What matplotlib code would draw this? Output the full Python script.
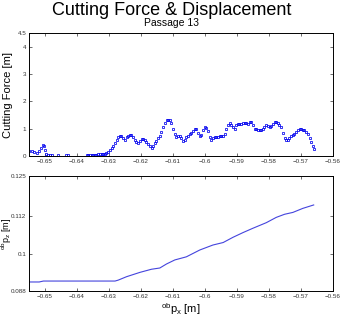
import matplotlib
matplotlib.use('Agg')
from matplotlib import pyplot as plt

plt.rcParams['font.family'] = ['Liberation Sans', 'DejaVu Sans']
plt.rcParams['mathtext.fontset'] = 'custom'
plt.rcParams['mathtext.rm'] = 'Liberation Sans'

# cutting force samples (x position [m], force)
force_x = [-0.6549, -0.6542, -0.6534, -0.6526, -0.6518, -0.6511, -0.6507, -0.6504,
           -0.6501, -0.6497, -0.6492, -0.6484, -0.6479, -0.6458, -0.6434, -0.6429,
           -0.6370, -0.6365, -0.6360, -0.6354, -0.6349, -0.6344, -0.6339, -0.6334,
           -0.6328, -0.6323, -0.6318, -0.6313, -0.6308, -0.6302, -0.6297, -0.6292,
           -0.6287, -0.6282, -0.6276, -0.6271, -0.6266, -0.6261, -0.6256, -0.6250,
           -0.6245, -0.6240, -0.6235, -0.6230, -0.6224, -0.6219, -0.6214, -0.6209,
           -0.6204, -0.6198, -0.6193, -0.6188, -0.6183, -0.6178, -0.6172, -0.6167,
           -0.6162, -0.6157, -0.6152, -0.6146, -0.6141, -0.6136, -0.6131, -0.6126,
           -0.6120, -0.6115, -0.6110, -0.6105, -0.6100, -0.6094, -0.6089, -0.6084,
           -0.6079, -0.6074, -0.6068, -0.6063, -0.6058, -0.6053, -0.6048, -0.6042,
           -0.6037, -0.6032, -0.6027, -0.6022, -0.6016, -0.6011, -0.6006, -0.6001,
           -0.5996, -0.5990, -0.5985, -0.5980, -0.5975, -0.5970, -0.5964, -0.5959,
           -0.5954, -0.5949, -0.5944, -0.5938, -0.5933, -0.5928, -0.5923, -0.5918,
           -0.5912, -0.5907, -0.5902, -0.5897, -0.5892, -0.5886, -0.5881, -0.5876,
           -0.5871, -0.5866, -0.5860, -0.5855, -0.5850, -0.5845, -0.5840, -0.5834,
           -0.5829, -0.5824, -0.5819, -0.5814, -0.5808, -0.5803, -0.5798, -0.5793,
           -0.5788, -0.5782, -0.5777, -0.5772, -0.5767, -0.5762, -0.5756, -0.5751,
           -0.5746, -0.5741, -0.5736, -0.5730, -0.5725, -0.5720, -0.5715, -0.5710,
           -0.5704, -0.5699, -0.5694, -0.5689, -0.5684, -0.5678, -0.5673, -0.5668,
           -0.5663, -0.5660]
force_y = [0.20, 0.19, 0.13, 0.10, 0.17, 0.28, 0.40, 0.38,
           0.22, 0.08, 0.05, 0.04, 0.03, 0.02, 0.02, 0.02,
           0.02, 0.02, 0.02, 0.02, 0.02, 0.03, 0.04, 0.06,
           0.08, 0.09, 0.08, 0.09, 0.10, 0.14, 0.22, 0.30,
           0.38, 0.48, 0.58, 0.70, 0.75, 0.72, 0.65, 0.60,
           0.68, 0.75, 0.78, 0.76, 0.68, 0.58, 0.52, 0.48,
           0.55, 0.62, 0.62, 0.58, 0.50, 0.45, 0.35, 0.28,
           0.35, 0.48, 0.55, 0.65, 0.75, 0.88, 1.05, 1.20,
           1.30, 1.33, 1.30, 1.22, 1.00, 0.82, 0.70, 0.72,
           0.75, 0.65, 0.55, 0.58, 0.68, 0.75, 0.80, 0.85,
           0.92, 1.00, 0.98, 0.85, 0.75, 0.78, 0.95, 1.05,
           1.02, 0.92, 0.70, 0.60, 0.65, 0.70, 0.70, 0.70,
           0.72, 0.72, 0.75, 0.80, 1.00, 1.15, 1.22, 1.15,
           1.05, 1.00, 1.12, 1.18, 1.18, 1.18, 1.20, 1.20,
           1.22, 1.18, 1.25, 1.25, 1.15, 1.00, 0.98, 0.97,
           0.95, 0.95, 1.00, 1.05, 1.12, 1.10, 1.05, 1.10,
           1.18, 1.25, 1.25, 1.22, 1.15, 1.05, 0.85, 0.65,
           0.58, 0.58, 0.65, 0.72, 0.78, 0.82, 0.88, 0.95,
           0.98, 0.98, 0.96, 0.95, 0.88, 0.80, 0.65, 0.50,
           0.35, 0.25]

# tool displacement
disp_x = [-0.6553, -0.6518, -0.6505, -0.6281, -0.6271, -0.6245, -0.6203, -0.6167,
          -0.6141, -0.6120, -0.6094, -0.6058, -0.6016, -0.5975, -0.5943, -0.5912,
          -0.5881, -0.5850, -0.5808, -0.5777, -0.5751, -0.5725, -0.5694, -0.5660]
disp_z = [0.0909, 0.0909, 0.0912, 0.0912, 0.0915, 0.0926, 0.0940, 0.0950,
          0.0954, 0.0967, 0.0980, 0.0990, 0.1012, 0.1028, 0.1036, 0.1053,
          0.1068, 0.1082, 0.1100, 0.1117, 0.1127, 0.1133, 0.1146, 0.1157]

x_ticks = [-0.65, -0.64, -0.63, -0.62, -0.61, -0.60, -0.59, -0.58, -0.57, -0.56]
x_labels = ['\u22120.65', '\u22120.64', '\u22120.63', '\u22120.62', '\u22120.61',
            '\u22120.6', '\u22120.59', '\u22120.58', '\u22120.57', '\u22120.56']
force_ticks = [0, 1, 2, 3, 4, 4.5]
force_labels = ['0', '1', '2', '3', '4', '4.5']
z_ticks = [0.088, 0.1, 0.112, 0.125]
z_labels = ['0.088', '0.1', '0.112', '0.125']

fig = plt.figure(figsize=(3.43, 3.21), dpi=100)
ax1 = fig.add_axes([0.0845, 0.514, 0.886, 0.383])
ax2 = fig.add_axes([0.0845, 0.0935, 0.886, 0.358])

for ax in (ax1, ax2):
    ax.set_xlim(-0.655, -0.56)
    ax.set_xticks(x_ticks)
    ax.set_xticklabels(x_labels)
    ax.tick_params(direction='in', top=True, right=True, labelsize=4.5,
                   length=2.5, width=0.5, pad=2, colors='#333333')
    for s in ax.spines.values():
        s.set_linewidth(0.7)

ax1.plot(force_x, force_y, linestyle='none', marker='s', markersize=1.8,
         markerfacecolor='none', markeredgecolor='#0000ee', markeredgewidth=0.55)
ax1.set_ylim(0, 4.5)
ax1.set_yticks(force_ticks)
ax1.set_yticklabels(force_labels)
ax1.set_ylabel('Cutting Force [m]', fontsize=8, labelpad=3)

ax2.plot(disp_x, disp_z, color='#4444dd', linewidth=0.8)
ax2.set_ylim(0.088, 0.125)
ax2.set_yticks(z_ticks)
ax2.set_yticklabels(z_labels)
ax2.set_ylabel(r'$^{\rm ob}\rm p_z$ [m]', fontsize=6.5, labelpad=0)
ax2.yaxis.set_label_coords(-0.05, 0.50)
ax2.set_xlabel(r'$^{\rm ob}\rm p_x$ [m]', fontsize=8, labelpad=2)

fig.text(0.5, 0.968, 'Cutting Force & Displacement', ha='center', va='center', fontsize=13)
fig.text(0.5, 0.927, 'Passage 13', ha='center', va='center', fontsize=7.5)

fig.savefig('out.png', dpi=100)
